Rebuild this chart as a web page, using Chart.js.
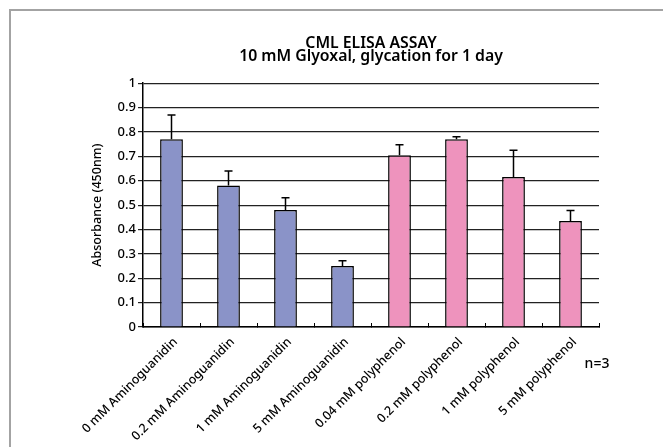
<!DOCTYPE html>
<html>
<head>
<meta charset="utf-8">
<script src="https://cdn.jsdelivr.net/npm/chart.js@4/dist/chart.umd.min.js"></script>
<style>
  html, body { margin: 0; padding: 0; background: #fff; }
  #wrap { width: 663px; height: 447px; position: relative; }
</style>
</head>
<body>
<div id="wrap"><canvas id="chart"></canvas></div>
<script>
// values
const categories = ['0 mM Aminoguanidin', '0.2 mM Aminoguanidin', '1 mM Aminoguanidin', '5 mM Aminoguanidin',
                    '0.04 mM polyphenol', '0.2 mM polyphenol', '1 mM polyphenol', '5 mM polyphenol'];
const absorbance = [0.77, 0.58, 0.48, 0.25, 0.705, 0.77, 0.615, 0.435];
const errors = [0.10, 0.06, 0.05, 0.022, 0.043, 0.01, 0.11, 0.043];
const barColors = ['#8a93c8', '#8a93c8', '#8a93c8', '#8a93c8', '#ee93bd', '#ee93bd', '#ee93bd', '#ee93bd'];
const titleLines = ['CML ELISA ASSAY', '10 mM Glyoxal, glycation for 1 day'];
const yAxisLabel = 'Absorbance (450nm)';
const noteText = 'n=3';

Chart.defaults.font.family = "'Noto Sans', sans-serif";
Chart.defaults.color = '#000';

// grey frame round the picture (only top and left show)
const frame = {
    id: 'frame',
    beforeDraw(chart) {
        const c = chart.ctx;
        c.save();
        c.fillStyle = '#fff';
        c.fillRect(0, 0, chart.width, chart.height);
        c.strokeStyle = '#a3a3a3';
        c.lineWidth = 2;
        c.beginPath();
        c.moveTo(10, chart.height);
        c.lineTo(10, 10);
        c.lineTo(chart.width, 10);
        c.stroke();
        c.restore();
    }
};

// error bars, slanted category labels and the n=3 note
const extras = {
    id: 'extras',
    afterDatasetsDraw(chart) {
        const c = chart.ctx;
        const xScale = chart.scales.x;
        const yScale = chart.scales.y;
        const meta = chart.getDatasetMeta(0);
        c.save();
        c.strokeStyle = '#000';
        c.lineWidth = 1.5;
        meta.data.forEach((bar, i) => {
            const yTop = yScale.getPixelForValue(absorbance[i] + errors[i]);
            const yVal = yScale.getPixelForValue(absorbance[i]);
            c.beginPath();
            c.moveTo(bar.x, yVal);
            c.lineTo(bar.x, yTop);
            c.moveTo(bar.x - 4, yTop);
            c.lineTo(bar.x + 4, yTop);
            c.stroke();
        });

        c.fillStyle = '#000';
        c.font = "500 12.5px 'Noto Sans', sans-serif";
        c.textAlign = 'right';
        c.textBaseline = 'middle';
        categories.forEach((label, i) => {
            const px = xScale.getPixelForValue(i);
            c.save();
            c.translate(px + 4, xScale.top + 13);
            c.rotate(-Math.PI / 4);
            c.fillText(label, 0, 0);
            c.restore();
        });

        c.font = "500 14px 'Noto Sans', sans-serif";
        c.textAlign = 'center';
        c.fillText(noteText, 597, 364);
        c.restore();
    }
};

const ctx = document.getElementById('chart');
new Chart(ctx, {
    type: 'bar',
    data: {
        labels: categories,
        datasets: [{
            data: absorbance,
            backgroundColor: barColors,
            borderColor: '#000',
            borderWidth: 1.5,
            barPercentage: 0.4,
            categoryPercentage: 1.0
        }]
    },
    options: {
        responsive: true,
        maintainAspectRatio: false,
        animation: false,
        layout: {
            padding: { top: 0, left: 0, right: 64, bottom: 0 }
        },
        plugins: {
            legend: { display: false },
            tooltip: { enabled: false },
            title: {
                display: true,
                fullSize: false,
                text: titleLines,
                color: '#000',
                font: { size: 15.8, weight: '600', lineHeight: 0.83 },
                padding: { top: 37, bottom: 20 }
            }
        },
        scales: {
            x: {
                afterFit: function(scale) { scale.height = 120; },
                grid: {
                    drawOnChartArea: false,
                    offset: true,
                    tickLength: -4,
                    color: '#000'
                },
                border: { color: '#000', width: 1.5 },
                ticks: { display: false }
            },
            y: {
                min: 0,
                max: 1,
                afterFit: function(scale) { scale.width = 143; },
                grid: {
                    color: '#222',
                    lineWidth: 1.2,
                    tickLength: 5
                },
                border: { color: '#000', width: 1.5 },
                ticks: {
                    stepSize: 0.1,
                    padding: 2,
                    font: { size: 13, weight: '500' },
                    callback: function(v) { return String(Number(v.toFixed(1))); }
                },
                title: {
                    display: true,
                    text: yAxisLabel,
                    font: { size: 12.5, weight: '500' },
                    padding: { top: 90, bottom: 0 }
                }
            }
        }
    },
    plugins: [frame, extras]
});
</script>
</body>
</html>
